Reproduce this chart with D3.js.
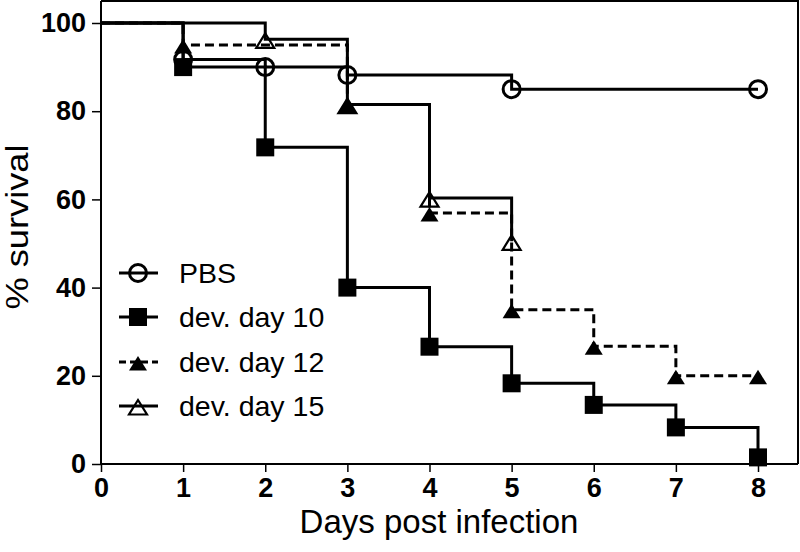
<!DOCTYPE html>
<html>
<head>
<meta charset="utf-8">
<script src="https://cdn.jsdelivr.net/npm/d3@7"></script>
<style>
  html, body { margin: 0; padding: 0; background: #fff; }
  svg { display: block; }
  text { font-family: "Liberation Sans", Arial, sans-serif; fill: #000; }
</style>
</head>
<body>
<svg id="chart" width="800" height="552"></svg>
<script>
// ---- data ----
const xTicks = [0, 1, 2, 3, 4, 5, 6, 7, 8];
const yTicks = [0, 20, 40, 60, 80, 100];

const pbsDays = [0, 1, 2, 3, 5, 8];
const pbsVals = [100, 91.7, 90, 88.2, 85, 85];

const d10Days = [0, 1, 2, 3, 4, 5, 6, 7, 8];
const d10Vals = [100, 90, 71.8, 40, 26.6, 18.3, 13.4, 8.3, 1.5];

const d12Days = [0, 1, 3, 4, 5, 6, 7, 8];
const d12Vals = [100, 95, 81.5, 56.9, 35, 26.7, 20, 20];

const d15Days = [0, 2, 3, 4, 5];
const d15Vals = [100, 96.3, 81.5, 60.3, 50.5];

const seriesNames = ["PBS", "dev. day 10", "dev. day 12", "dev. day 15"];

// ---- layout ----
const svg = d3.select("#chart");
const x = d3.scaleLinear().domain([0, 8]).range([101, 758]);
const y = d3.scaleLinear().domain([0, 100]).range([464, 23]);
const frameRight = 798, frameTop = 1;

const series = [
  {name: seriesNames[0], days: pbsDays, vals: pbsVals, marker: "circle", dash: null},
  {name: seriesNames[1], days: d10Days, vals: d10Vals, marker: "square", dash: null},
  {name: seriesNames[2], days: d12Days, vals: d12Vals, marker: "triFilled", dash: "9,5"},
  {name: seriesNames[3], days: d15Days, vals: d15Vals, marker: "triOpen", dash: null}
];

function drawMarker(g, type, cx, cy) {
  if (type === "circle") {
    g.append("circle").attr("cx", cx).attr("cy", cy).attr("r", 8.5)
      .attr("fill", "none").attr("stroke", "#000").attr("stroke-width", 3);
  } else if (type === "square") {
    g.append("rect").attr("x", cx - 9).attr("y", cy - 9).attr("width", 18).attr("height", 18)
      .attr("fill", "#000");
  } else {
    const p = d3.path();
    p.moveTo(cx, cy - 6); p.lineTo(cx + 9, cy + 8.5); p.lineTo(cx - 9, cy + 8.5); p.closePath();
    if (type === "triFilled") {
      g.append("path").attr("d", p.toString()).attr("fill", "#000");
    } else {
      g.append("path").attr("d", p.toString()).attr("fill", "none")
        .attr("stroke", "#000").attr("stroke-width", 2.2).attr("stroke-linejoin", "miter");
    }
  }
}

// ---- frame & axes ----
const axG = svg.append("g");
axG.append("path")
  .attr("d", `M${x(0)},${frameTop}H${frameRight}V${y(0)}`)
  .attr("fill", "none").attr("stroke", "#000").attr("stroke-width", 2);

const xAxis = d3.axisBottom(x).tickValues(xTicks).tickSize(8).tickPadding(6).tickSizeOuter(0);
const gx = svg.append("g").attr("transform", `translate(0,${y(0)})`).call(xAxis);
gx.select(".domain").attr("d", `M${x(0)},0H${frameRight}`).attr("stroke-width", 2);
gx.selectAll(".tick line").attr("stroke-width", 1.5);
gx.selectAll(".tick text").attr("font-size", 27).attr("font-weight", "bold")
  .attr("font-family", "'Liberation Sans', Arial, sans-serif").attr("dy", "0.71em");

const yAxis = d3.axisLeft(y).tickValues(yTicks).tickSize(9).tickPadding(6).tickSizeOuter(0);
const gy = svg.append("g").attr("transform", `translate(${x(0)},0)`).call(yAxis);
gy.select(".domain").attr("d", `M0,${frameTop}V${y(0)}`).attr("stroke-width", 2);
gy.selectAll(".tick line").attr("stroke-width", 1.5);
gy.selectAll(".tick text").attr("font-size", 27).attr("font-weight", "bold")
  .attr("font-family", "'Liberation Sans', Arial, sans-serif");

// axis titles
svg.append("text").attr("x", 439).attr("y", 533).attr("text-anchor", "middle")
  .attr("font-size", 33).text("Days post infection");
svg.append("text").attr("transform", "translate(28,227) rotate(-90)").attr("text-anchor", "middle")
  .attr("font-size", 31).attr("textLength", 165).attr("lengthAdjust", "spacingAndGlyphs")
  .text("% survival");

// ---- survival curves ----
const lineGen = d3.line().curve(d3.curveStepAfter).x(d => x(d[0])).y(d => y(d[1]));
const plotG = svg.append("g");
series.forEach(s => {
  const pts = s.days.map((d, i) => [d, s.vals[i]]);
  plotG.append("path").attr("d", lineGen(pts)).attr("fill", "none")
    .attr("stroke", "#000").attr("stroke-width", 3)
    .attr("stroke-dasharray", s.dash);
});
series.forEach(s => {
  s.days.forEach((d, i) => {
    if (d > 0) drawMarker(plotG, s.marker, x(d), y(s.vals[i]));
  });
});

// ---- legend ----
const legY = [273, 317, 362, 406];
const legG = svg.append("g");
series.forEach((s, i) => {
  legG.append("line").attr("x1", 119).attr("x2", 158).attr("y1", legY[i]).attr("y2", legY[i])
    .attr("stroke", "#000").attr("stroke-width", 3).attr("stroke-dasharray", s.dash ? "7,4" : null);
  drawMarker(legG, s.marker, 138, legY[i]);
  legG.append("text").attr("x", 179).attr("y", legY[i]).attr("dy", "0.36em")
    .attr("font-size", 28.5).text(s.name);
});
</script>
</body>
</html>
